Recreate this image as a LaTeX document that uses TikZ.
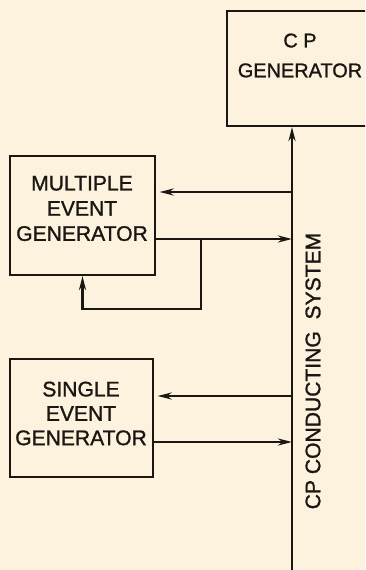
\documentclass[tikz,border=0pt]{standalone}
\usepackage{fontspec}
\setmainfont{Liberation Sans}[FakeBold=1.2]
\usetikzlibrary{positioning,arrows.meta}

\definecolor{paper}{RGB}{252,242,222}
\definecolor{ink}{RGB}{26,22,18}

\tikzset{
  box/.style={draw, rectangle, line width=1.9pt},
  arr/.style={-{Stealth[length=12pt,width=6pt]}},
}

\begin{document}
\begin{tikzpicture}[x=0.03cm, y=-0.03cm, color=ink, line width=1.9pt,
    every node/.style={inner sep=0pt, align=center, font=\fontsize{18}{21.5}\selectfont}]
    % paper
    \fill[paper] (0,0) rectangle (365,570);
    \useasboundingbox (0,0) rectangle (365,570);
    \clip (0,0) rectangle (365,570);

    % boxes
    \node[box, minimum width=4.44cm, minimum height=3.45cm] (cpgen) at (301,68.5) {};
    \node[box, minimum width=4.35cm, minimum height=3.57cm] (multi) at (82.5,215.5) {};
    \node[box, minimum width=4.29cm, minimum height=3.54cm] (single) at (81.5,418) {};

    % texts
    \node[font=\fontsize{17}{25.5}\selectfont] (cpgentext) at (300,55.5) {C P\\GENERATOR};
    \node (multitext) at (82,208.5) {MULTIPLE\\EVENT\\GENERATOR};
    \node[font=\fontsize{18}{20.8}\selectfont] (singletext) at (81,413.5) {SINGLE\\EVENT\\GENERATOR};
    \node[rotate=90] (buslabel) at (313,371) {CP CONDUCTING\ \ SYSTEM};

    % points on the conducting system
    \coordinate (busbot) at (292,570);
    \coordinate (m1) at (292,192);
    \coordinate (m2) at (292,239);
    \coordinate (s1) at (292,396);
    \coordinate (s2) at (292,442);
    \coordinate (fb) at (201,239);

    % conducting system
    \draw[arr] (busbot) -- (busbot |- cpgen.south);

    % multiple event generator
    \draw[arr, shorten >=3pt] (m1) -- (m1 -| multi.east);
    \draw[arr] (m2 -| multi.east) -- (m2);
    \draw[arr] (fb) -- (fb |- 0,309) -| (multi.south);

    % single event generator
    \draw[arr, shorten >=3pt] (s1) -- (s1 -| single.east);
    \draw[arr] (s2 -| single.east) -- (s2);
\end{tikzpicture}
\end{document}
